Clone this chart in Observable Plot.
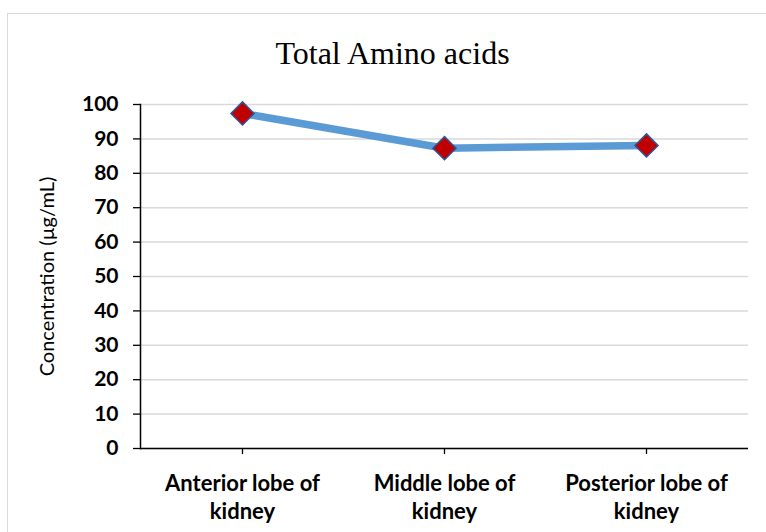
<!DOCTYPE html>
<html>
<head>
<meta charset="utf-8">
<script src="https://cdn.jsdelivr.net/npm/d3@7"></script>
<script src="https://cdn.jsdelivr.net/npm/@observablehq/plot@0.6"></script>
<style>
  html, body { margin: 0; padding: 0; background: #fff; }
  #wrap { position: relative; width: 766px; height: 532px; overflow: hidden; }
  #border { position: absolute; left: 7px; top: 12.5px; width: 900px; height: 700px; border: 1.5px solid #d9d9d9; box-sizing: border-box; }
  #chart { position: absolute; left: 0; top: 0; }
</style>
</head>
<body>
<div id="wrap"><div id="border"></div><div id="chart"></div></div>
<script>
const title = "Total Amino acids";
const yLabel = "Concentration (µg/mL)";
const categories = ["Anterior lobe of kidney", "Middle lobe of kidney", "Posterior lobe of kidney"];
const tickLabels = ["Anterior lobe of\nkidney", "Middle lobe of\nkidney", "Posterior lobe of\nkidney"];
const values = [97.4, 87.3, 88.1];
const yTicks = [0, 10, 20, 30, 40, 50, 60, 70, 80, 90, 100];

const data = categories.map((c, i) => ({category: c, value: values[i]}));

const chart = Plot.plot({
  width: 766,
  height: 532,
  marginLeft: 140,
  marginRight: 18,
  marginTop: 104,
  marginBottom: 84,
  style: {background: "transparent", color: "#000"},
  x: {type: "point", domain: categories, padding: 0.5, align: 0.5},
  y: {domain: [0, 100]},
  marks: [
    Plot.gridY(yTicks, {stroke: "#d9d9d9", strokeOpacity: 1, strokeWidth: 1.5}),
    Plot.axisY(yTicks, {tickSize: 7, tickPadding: 15, fontSize: 21, fontWeight: "bold", fontFamily: "Lato", label: null, stroke: "#000", strokeWidth: 1.3}),
    Plot.axisX({tickSize: 6, tickPadding: 16, fontSize: 22, fontWeight: "bold", fontFamily: "Lato", lineHeight: 1.3, label: null,
      tickFormat: d => tickLabels[categories.indexOf(d)], stroke: "#000", strokeWidth: 1.3}),
    Plot.frame({anchor: "left", stroke: "#000", strokeWidth: 1.5}),
    Plot.ruleY([0], {stroke: "#000", strokeWidth: 1.5}),
    Plot.line(data, {x: "category", y: "value", stroke: "#5B9BD5", strokeWidth: 7.5, strokeLinecap: "round"}),
    Plot.dot(data, {x: "category", y: "value", symbol: "diamond2", r: 10.4, fill: "#C00000", stroke: "#2F5597", strokeWidth: 1.5}),
    Plot.text([yLabel], {text: d => d, frameAnchor: "left", textAnchor: "middle", rotate: -90, dx: -93, fontSize: 20, fontFamily: "Lato", fill: "#000"}),
    Plot.text([title], {text: d => d, frameAnchor: "top", dx: -52, dy: -41, lineAnchor: "bottom", fontSize: 32, fontFamily: "Liberation Serif", fill: "#000"})
  ]
});
document.getElementById("chart").appendChild(chart);
</script>
</body>
</html>
